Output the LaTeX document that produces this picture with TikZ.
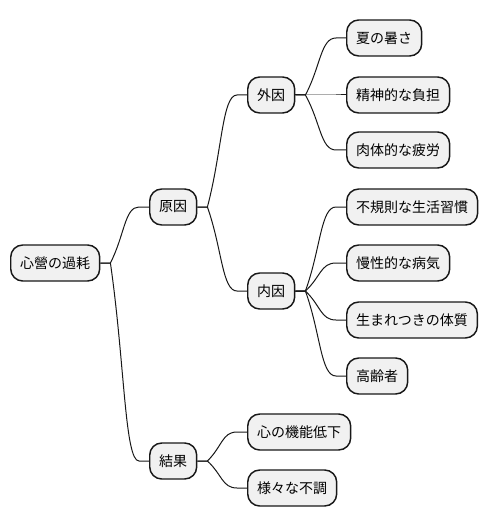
\documentclass[tikz,border=0pt]{standalone}
\usepackage{fontspec}
\setmainfont{Noto Sans CJK JP}
\usetikzlibrary{calc}

\definecolor{boxfill}{HTML}{F1F1F1}
\definecolor{boxline}{HTML}{181818}

\tikzset{
  topic/.style={draw=boxline, fill=boxfill, line width=1.1pt, rounded corners=9pt,
    minimum height=27pt, inner xsep=7.1pt, anchor=west,
    font=\fontsize{10.5}{12}\selectfont},
  twigline/.style={draw=boxline, line width=0.75pt}
}

% branch from parent to child
\newcommand{\twig}[2]{%
  \path (#1.east) ++(10,0) coordinate (f);
  \path (#2.west) ++(-10,0) coordinate (g);
  \path ($(f)!.5!(g)$) coordinate (m);
  \draw[twigline] (#1.east) -- (f) .. controls (m) and (m |- g) .. (g) -- (#2.west);
}

\begin{document}
\begin{tikzpicture}[x=0.75pt,y=0.75pt,yscale=-1,xscale=1]
\useasboundingbox (0,0) rectangle (488,527);

% Text Node
\node[topic] (root) at (10,263) {心營の過耗};
% Text Node
\node[topic] (cause) at (149,207) {原因};
\node[topic] (result) at (149,461) {結果};
% Text Node
\node[topic] (outer) at (247,95) {外因};
\node[topic] (inner) at (247,291) {内因};
% Text Node
\node[topic] (heat) at (346,38) {夏の暑さ};
\node[topic] (mental) at (346,95) {精神的な負担};
\node[topic] (body) at (346,150) {肉体的な疲労};
% Text Node
\node[topic] (habit) at (346,207) {不規則な生活習慣};
\node[topic] (illness) at (346,263) {慢性的な病気};
\node[topic] (nature) at (346,320) {生まれつきの体質};
\node[topic] (aged) at (346,376) {高齢者};
% Text Node
\node[topic] (decline) at (247,432) {心の機能低下};
\node[topic] (upset) at (247,488) {様々な不調};

%Connectors
\twig{root}{cause}
\twig{root}{result}
\twig{cause}{outer}
\twig{cause}{inner}
\twig{outer}{heat}
\twig{outer}{mental}
\twig{outer}{body}
\twig{inner}{habit}
\twig{inner}{illness}
\twig{inner}{nature}
\twig{inner}{aged}
\twig{result}{decline}
\twig{result}{upset}
\end{tikzpicture}
\end{document}
